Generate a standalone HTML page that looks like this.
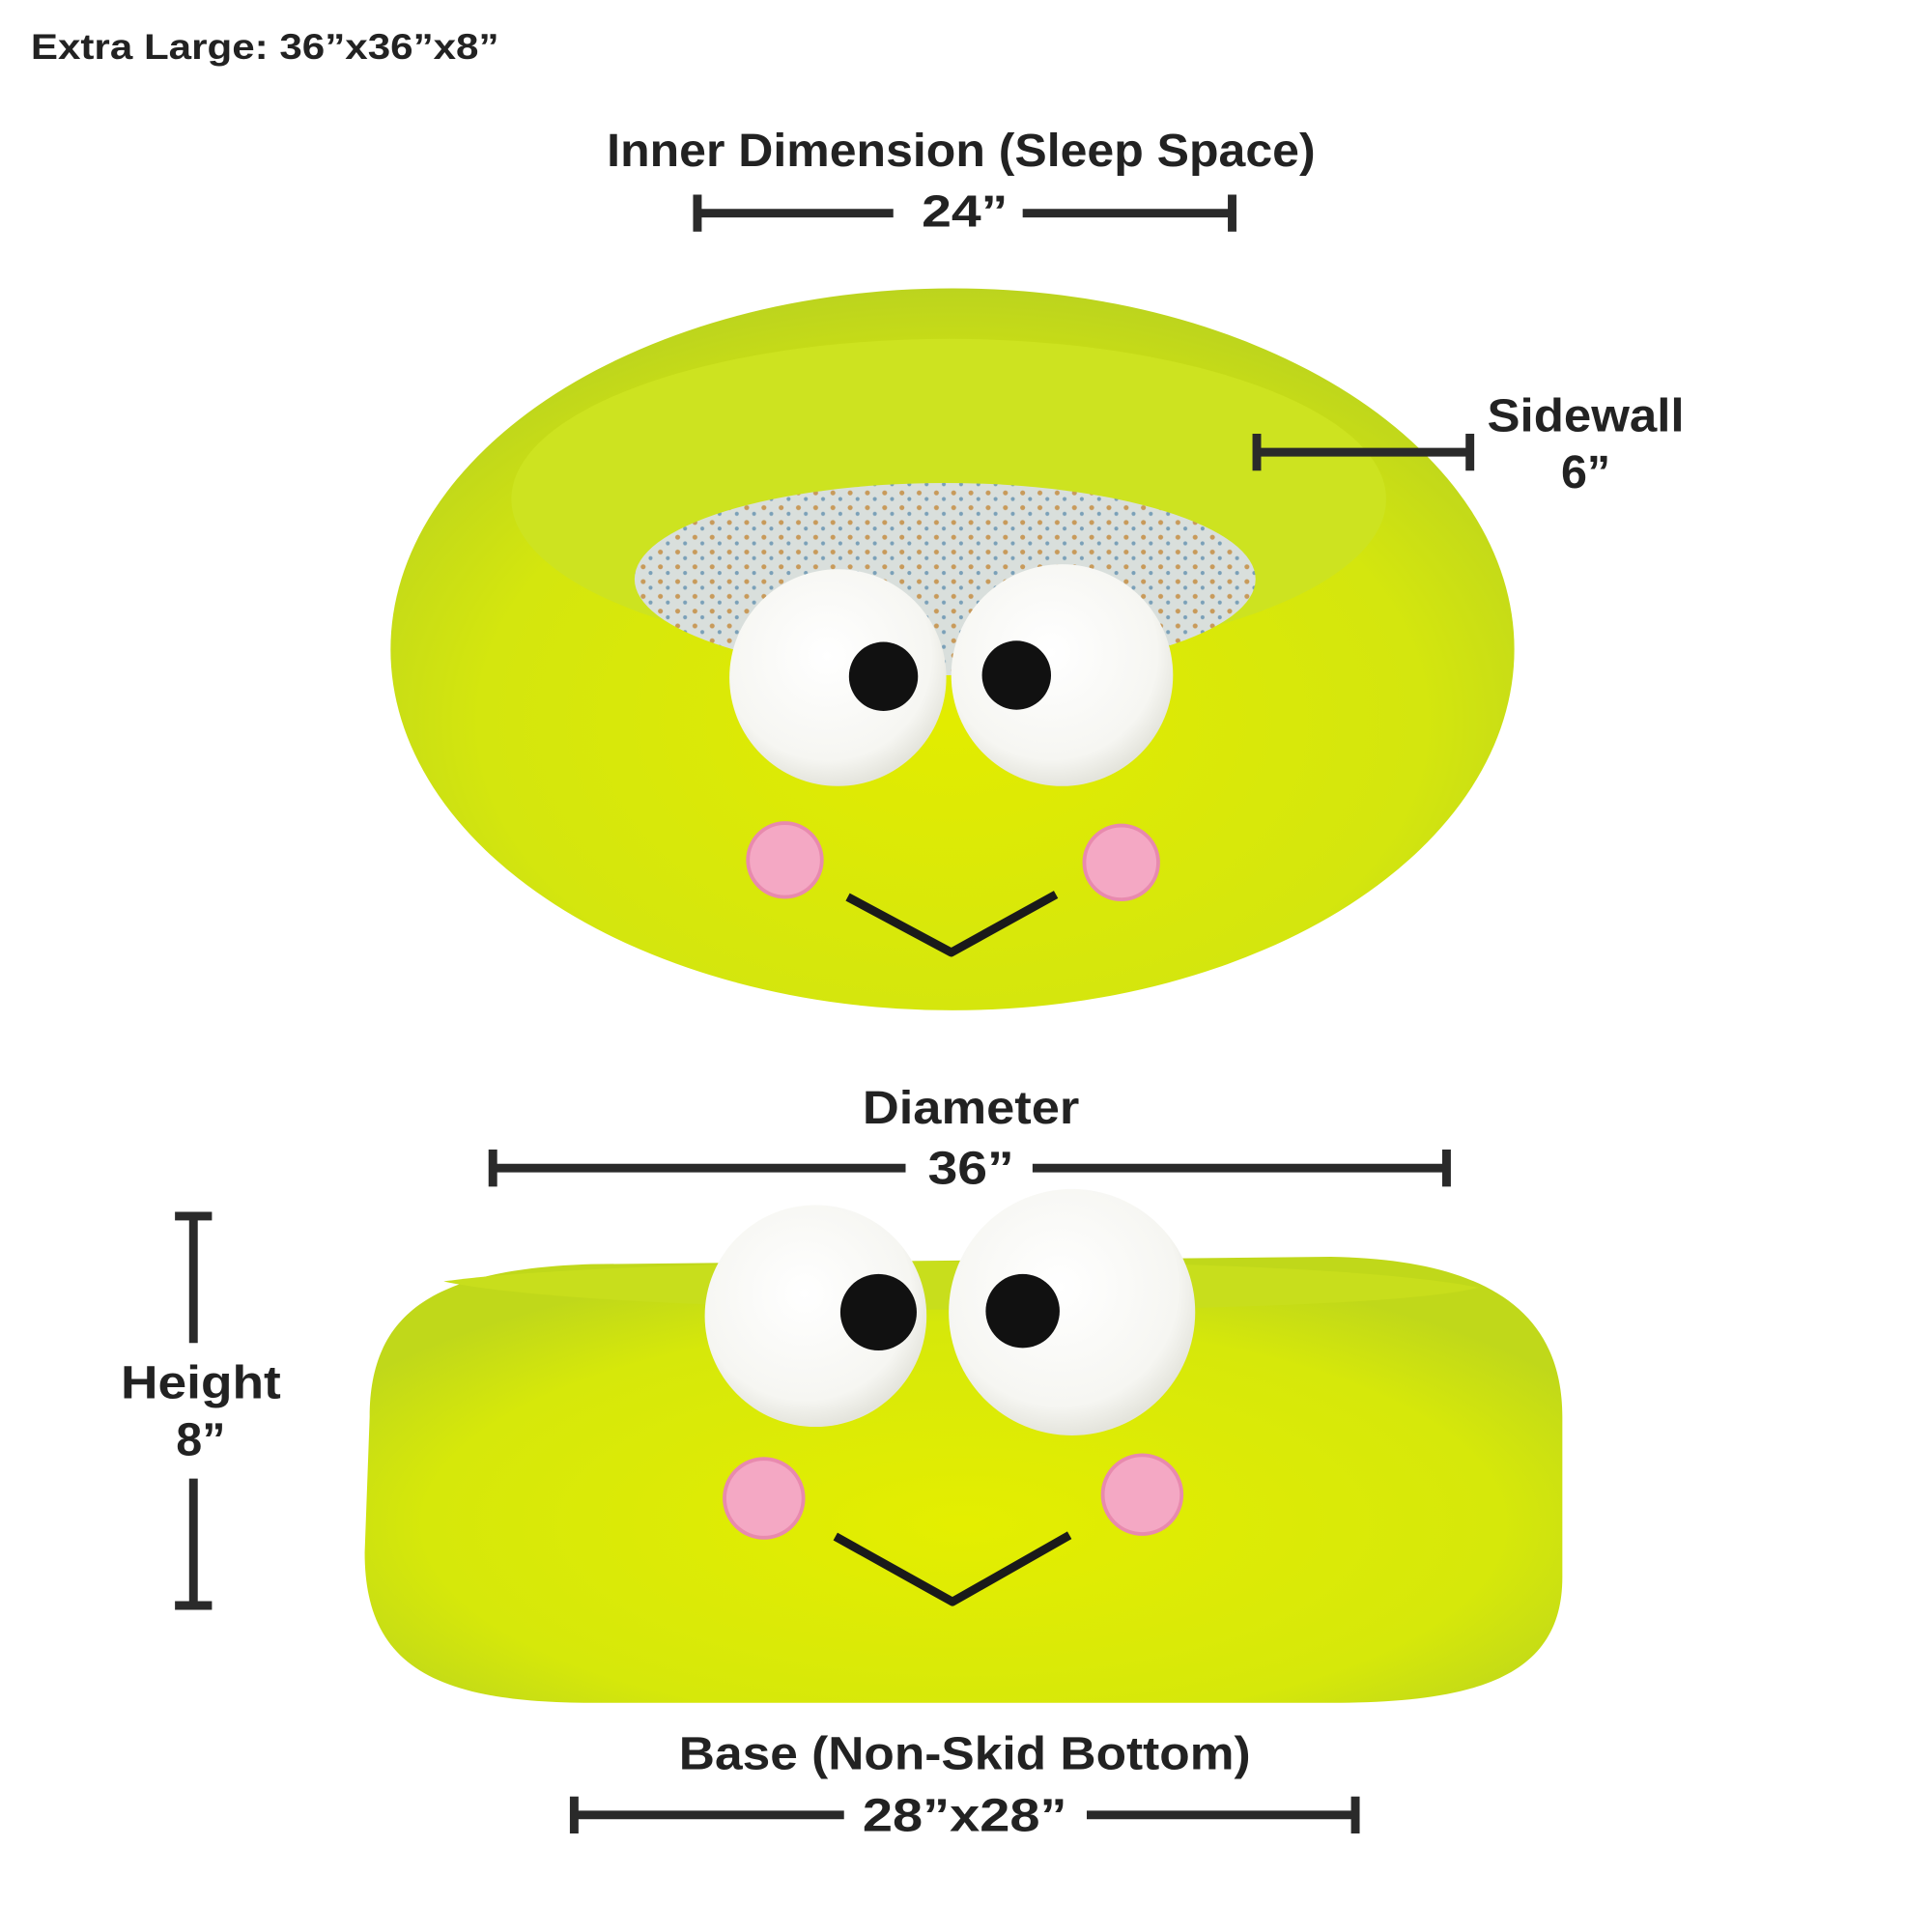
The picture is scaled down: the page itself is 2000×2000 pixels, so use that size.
<!DOCTYPE html>
<html><head><meta charset="utf-8"><style>html,body{margin:0;padding:0;background:#fff}svg{display:block}</style></head>
<body>
<svg xmlns="http://www.w3.org/2000/svg" width="2000" height="2000" viewBox="0 0 1568 1568" font-family="Liberation Sans, sans-serif" font-weight="bold" fill="#222">
<defs>
<radialGradient id="g1" cx="0.5" cy="0.6" r="0.6"><stop offset="0" stop-color="#e2ec00"/><stop offset="0.7" stop-color="#d4e60e"/><stop offset="1" stop-color="#bcd41e"/></radialGradient>
<radialGradient id="g2" cx="0.5" cy="0.6" r="0.6"><stop offset="0" stop-color="#e4ee00"/><stop offset="0.75" stop-color="#d6e80a"/><stop offset="1" stop-color="#c0d81a"/></radialGradient>
<radialGradient id="ey" cx="0.45" cy="0.4" r="0.6"><stop offset="0" stop-color="#ffffff"/><stop offset="0.8" stop-color="#f6f6f2"/><stop offset="1" stop-color="#e4e4dc"/></radialGradient>
<pattern id="pt" width="14" height="12" patternUnits="userSpaceOnUse"><rect width="14" height="12" fill="#d9dfdc"/><circle cx="4" cy="4" r="2" fill="#c89a5a"/><circle cx="10" cy="9" r="1.6" fill="#7aa0b8"/></pattern>
</defs>
<text x="25" y="48" font-size="29" textLength="380" lengthAdjust="spacingAndGlyphs">Extra Large: 36”x36”x8”</text>

<text x="780" y="135" font-size="38" text-anchor="middle" textLength="575" lengthAdjust="spacingAndGlyphs">Inner Dimension (Sleep Space)</text>
<g stroke="#2a2a2a" stroke-width="7" fill="none">
<line x1="566" y1="173" x2="725" y2="173"/><line x1="830" y1="173" x2="1000" y2="173"/>
<line x1="566" y1="158" x2="566" y2="188"/><line x1="1000" y1="158" x2="1000" y2="188"/>
</g>
<text x="783" y="184" font-size="36" text-anchor="middle" textLength="70" lengthAdjust="spacingAndGlyphs">24”</text>

<!-- top bed -->
<ellipse cx="773" cy="527" rx="456" ry="293" fill="url(#g1)"/>
<ellipse cx="770" cy="405" rx="355" ry="130" fill="#cde320"/>
<ellipse cx="767" cy="470" rx="252" ry="78" fill="url(#pt)"/>
<circle cx="680" cy="550" r="88" fill="url(#ey)"/>
<circle cx="862" cy="548" r="90" fill="url(#ey)"/>
<circle cx="717" cy="549" r="28" fill="#111"/>
<circle cx="825" cy="548" r="28" fill="#111"/>
<circle cx="637" cy="698" r="30" fill="#f4a8c4" stroke="#e88aae" stroke-width="3"/>
<circle cx="910" cy="700" r="30" fill="#f4a8c4" stroke="#e88aae" stroke-width="3"/>
<polyline points="688,728 772,773 857,726" fill="none" stroke="#1a1a1a" stroke-width="7" stroke-linejoin="round"/>

<text x="1287" y="350" font-size="38" text-anchor="middle" textLength="160" lengthAdjust="spacingAndGlyphs">Sidewall</text>
<text x="1287" y="396" font-size="38" text-anchor="middle">6”</text>
<g stroke="#2a2a2a" stroke-width="7"><line x1="1020" y1="367" x2="1193" y2="367"/><line x1="1020" y1="352" x2="1020" y2="382"/><line x1="1193" y1="352" x2="1193" y2="382"/></g>

<text x="788" y="912" font-size="38" text-anchor="middle" textLength="176" lengthAdjust="spacingAndGlyphs">Diameter</text>
<g stroke="#2a2a2a" stroke-width="7"><line x1="400" y1="948" x2="735" y2="948"/><line x1="838" y1="948" x2="1174" y2="948"/><line x1="400" y1="933" x2="400" y2="963"/><line x1="1174" y1="933" x2="1174" y2="963"/></g>
<text x="788" y="961" font-size="38" text-anchor="middle" textLength="70" lengthAdjust="spacingAndGlyphs">36”</text>

<!-- bottom bed -->
<path d="M300,1150 C300,1060 360,1030 480,1026 L1080,1020 C1200,1022 1268,1060 1268,1150 L1268,1280 C1268,1360 1200,1382 1080,1382 L480,1382 C350,1382 296,1350 296,1260 Z" fill="url(#g2)"/>
<path d="M360,1040 C500,1020 1050,1015 1200,1045 C1100,1070 500,1070 360,1040 Z" fill="#c8de1c"/>
<circle cx="662" cy="1068" r="90" fill="url(#ey)"/>
<circle cx="870" cy="1065" r="100" fill="url(#ey)"/>
<circle cx="713" cy="1065" r="31" fill="#111"/>
<circle cx="830" cy="1064" r="30" fill="#111"/>
<circle cx="620" cy="1216" r="32" fill="#f4a8c4" stroke="#e88aae" stroke-width="3"/>
<circle cx="927" cy="1213" r="32" fill="#f4a8c4" stroke="#e88aae" stroke-width="3"/>
<polyline points="678,1247 773,1300 868,1246" fill="none" stroke="#1a1a1a" stroke-width="7" stroke-linejoin="round"/>

<g stroke="#2a2a2a" stroke-width="7"><line x1="157" y1="987" x2="157" y2="1090"/><line x1="157" y1="1200" x2="157" y2="1303"/><line x1="142" y1="987" x2="172" y2="987"/><line x1="142" y1="1303" x2="172" y2="1303"/></g>
<text x="163" y="1135" font-size="38" text-anchor="middle" textLength="130" lengthAdjust="spacingAndGlyphs">Height</text>
<text x="163" y="1181" font-size="38" text-anchor="middle">8”</text>

<text x="783" y="1436" font-size="38" text-anchor="middle" textLength="464" lengthAdjust="spacingAndGlyphs">Base (Non-Skid Bottom)</text>
<g stroke="#2a2a2a" stroke-width="7"><line x1="466" y1="1473" x2="685" y2="1473"/><line x1="882" y1="1473" x2="1100" y2="1473"/><line x1="466" y1="1458" x2="466" y2="1488"/><line x1="1100" y1="1458" x2="1100" y2="1488"/></g>
<text x="783" y="1486" font-size="38" text-anchor="middle" textLength="166" lengthAdjust="spacingAndGlyphs">28”x28”</text>
</svg>
</body></html>
